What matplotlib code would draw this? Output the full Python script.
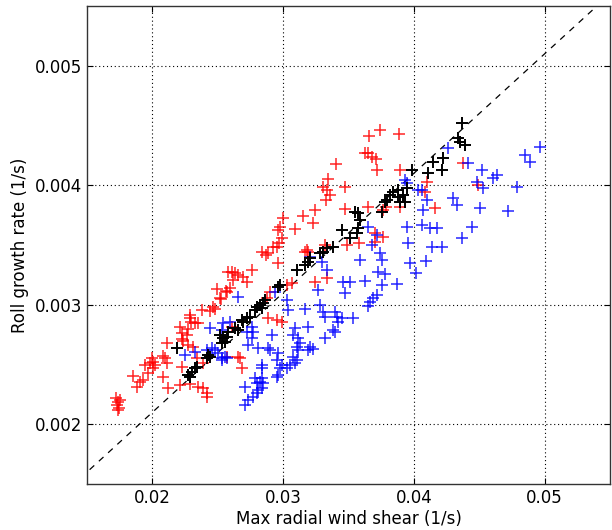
import matplotlib
matplotlib.use("Agg")
import matplotlib.pyplot as plt
import numpy as np

# Red series (Max radial wind shear, roll growth rate)
red_x = [0.01722, 0.01737, 0.01729, 0.01745, 0.01752, 0.01737, 0.01852, 0.01882, 0.01905, 0.01928,
         0.01967, 0.01944, 0.01982, 0.01997, 0.02005, 0.0202, 0.02005, 0.02081, 0.02097, 0.02112,
         0.02081, 0.0212, 0.02211, 0.02227, 0.02112, 0.02211, 0.02272, 0.02227, 0.02265, 0.02227,
         0.02234, 0.02288, 0.02288, 0.02295, 0.02326, 0.02349, 0.02272, 0.02311, 0.02341, 0.02387,
         0.02288, 0.02349, 0.02387, 0.02418, 0.02418, 0.0238, 0.02441, 0.02479, 0.02464, 0.02525,
         0.02494, 0.02563, 0.02578, 0.02609, 0.02632, 0.02655, 0.02617, 0.02594, 0.02571, 0.02693,
         0.02724, 0.02762, 0.02838, 0.02884, 0.02869, 0.02923, 0.02953, 0.02968, 0.02991, 0.02999,
         0.02976, 0.02961, 0.03091, 0.03152, 0.03167, 0.0319, 0.02961, 0.029, 0.02877, 0.02517,
         0.03068, 0.0303, 0.03244, 0.03336, 0.02884, 0.02953, 0.02991, 0.02609, 0.0267, 0.02685,
         0.02655, 0.02571, 0.03244, 0.03228, 0.03343, 0.03305, 0.03336, 0.03359, 0.03328, 0.03473,
         0.03404, 0.03473, 0.03626, 0.03649, 0.0368, 0.0371, 0.03718, 0.03657, 0.03741, 0.03886,
         0.03894, 0.03649, 0.03787, 0.03764, 0.03894, 0.03703, 0.03764, 0.03703, 0.0358, 0.03489,
         0.0332, 0.03183, 0.04376, 0.041, 0.04085, 0.04162, 0.0449]
red_y = [0.00222, 0.002186, 0.002161, 0.002136, 0.002203, 0.002119, 0.002404, 0.002312, 0.002354, 0.00237,
         0.002429, 0.002496, 0.002513, 0.002554, 0.002521, 0.002496, 0.002471, 0.002571, 0.002554, 0.002513,
         0.002395, 0.002303, 0.002329, 0.002479, 0.00268, 0.002814, 0.002797, 0.002764, 0.002747, 0.002713,
         0.002697, 0.002914, 0.002889, 0.002856, 0.002847, 0.002847, 0.002663, 0.002647, 0.002554, 0.002513,
         0.002337, 0.002312, 0.002303, 0.002262, 0.002228, 0.002956, 0.002948, 0.002964, 0.002981, 0.003048,
         0.003132, 0.003115, 0.003274, 0.003274, 0.003266, 0.003249, 0.003207, 0.00314, 0.003107, 0.003232,
         0.00319, 0.003291, 0.003441, 0.003433, 0.003416, 0.003483, 0.003483, 0.003517, 0.003559, 0.003726,
         0.003651, 0.003626, 0.003634, 0.003743, 0.003441, 0.003441, 0.003349, 0.003107, 0.003057, 0.003057,
         0.003182, 0.003165, 0.00319, 0.003224, 0.002889, 0.002872, 0.002856, 0.002814, 0.002554, 0.002471,
         0.002563, 0.002563, 0.003793, 0.003684, 0.004052, 0.003985, 0.00396, 0.003918, 0.003877, 0.003985,
         0.004178, 0.003801, 0.00427, 0.00427, 0.004236, 0.00422, 0.004128, 0.004412, 0.004462, 0.004429,
         0.004128, 0.003818, 0.003818, 0.003793, 0.003818, 0.0036, 0.003567, 0.003525, 0.003517, 0.0035,
         0.0035, 0.003458, 0.004186, 0.004027, 0.003944, 0.00381, 0.004002]

# Blue series
blue_x = [0.02655, 0.02938, 0.0303, 0.03037, 0.03167, 0.03267, 0.03282, 0.03305, 0.0332, 0.03336,
          0.03297, 0.03458, 0.03473, 0.03397, 0.03412, 0.0345, 0.0342, 0.03381, 0.03397, 0.0332,
          0.0319, 0.03091, 0.03076, 0.03114, 0.03129, 0.03106, 0.03114, 0.03076, 0.03106, 0.03091,
          0.03053, 0.03206, 0.03228, 0.0319, 0.02915, 0.02884, 0.029, 0.02808, 0.02731, 0.02961,
          0.02953, 0.02991, 0.02976, 0.0303, 0.02838, 0.02838, 0.02961, 0.02953, 0.02838, 0.02823,
          0.028, 0.02785, 0.02846, 0.02838, 0.02808, 0.028, 0.02708, 0.0277, 0.02731, 0.02708,
          0.02762, 0.0277, 0.02762, 0.02724, 0.02594, 0.0254, 0.02532, 0.02532, 0.02571, 0.02441,
          0.0225, 0.02326, 0.02418, 0.02456, 0.02479, 0.02502, 0.02555, 0.02532, 0.03588, 0.03741,
          0.03756, 0.03726, 0.03779, 0.03511, 0.03626, 0.03756, 0.03871, 0.03718, 0.03687, 0.03664,
          0.03649, 0.03534, 0.0397, 0.04016, 0.04093, 0.04261, 0.04414, 0.04965, 0.0485, 0.04888,
          0.04521, 0.04636, 0.04605, 0.04483, 0.04529, 0.04789, 0.04062, 0.041, 0.04299, 0.0433,
          0.04506, 0.0407, 0.0472, 0.04062, 0.04123, 0.04177, 0.04444, 0.04368, 0.04139, 0.04215,
          0.03947, 0.04032, 0.03947, 0.03955, 0.03649, 0.03718, 0.0368, 0.03206, 0.03932]
blue_y = [0.003065, 0.003107, 0.00304, 0.002956, 0.002964, 0.003123, 0.002998, 0.002939, 0.002898, 0.003291,
          0.003358, 0.00319, 0.003098, 0.002939, 0.002898, 0.002889, 0.002856, 0.002789, 0.002772, 0.002722,
          0.002814, 0.002806, 0.002747, 0.002722, 0.00268, 0.002647, 0.002621, 0.002563, 0.002538, 0.002513,
          0.002496, 0.002647, 0.00263, 0.002621, 0.002747, 0.002638, 0.002621, 0.002638, 0.002663, 0.002596,
          0.002538, 0.002496, 0.002471, 0.002471, 0.002496, 0.002471, 0.002412, 0.002395, 0.002387, 0.002354,
          0.002345, 0.002387, 0.002345, 0.002303, 0.002287, 0.002262, 0.002312, 0.002228, 0.002203, 0.002161,
          0.002814, 0.002772, 0.002722, 0.002772, 0.002856, 0.002847, 0.002789, 0.002554, 0.002554, 0.002806,
          0.00258, 0.002605, 0.002621, 0.002638, 0.002621, 0.002596, 0.002563, 0.002538, 0.003375, 0.003433,
          0.003375, 0.003274, 0.003257, 0.00319, 0.003199, 0.003165, 0.003174, 0.003082, 0.003057, 0.003023,
          0.00299, 0.002889, 0.003349, 0.003266, 0.003366, 0.004312, 0.004186, 0.00432, 0.004253, 0.004195,
          0.004128, 0.004086, 0.004061, 0.004027, 0.003977, 0.003985, 0.00396, 0.003877, 0.003893, 0.003835,
          0.00381, 0.003793, 0.003785, 0.003667, 0.003642, 0.003642, 0.003651, 0.003559, 0.003483, 0.003483,
          0.004019, 0.00396, 0.003651, 0.003517, 0.003651, 0.003584, 0.0035, 0.0034, 0.004044]

# Black series
black_x = [0.02188, 0.02272, 0.02303, 0.02326, 0.02341, 0.02288, 0.02425, 0.02441, 0.02418, 0.0254,
           0.02571, 0.02555, 0.02578, 0.02517, 0.02532, 0.02632, 0.02655, 0.02685, 0.02693, 0.02724,
           0.02747, 0.02785, 0.028, 0.02823, 0.02846, 0.02861, 0.02838, 0.02961, 0.02976, 0.03106,
           0.03167, 0.0319, 0.03206, 0.03282, 0.03305, 0.03336, 0.03381, 0.0345, 0.03511, 0.03565,
           0.03573, 0.03588, 0.03573, 0.0355, 0.03756, 0.03817, 0.0384, 0.03879, 0.03894, 0.03917,
           0.03879, 0.03986, 0.03947, 0.04108, 0.04368, 0.04337, 0.04353, 0.04391, 0.04146, 0.04223,
           0.04215, 0.03794, 0.03779, 0.03932]
black_y = [0.002638, 0.002412, 0.002437, 0.002471, 0.002479, 0.002395, 0.00258, 0.002563, 0.002554, 0.002722,
           0.00273, 0.002688, 0.002772, 0.002747, 0.00268, 0.002806, 0.002789, 0.002872, 0.002856, 0.002889,
           0.002898, 0.002956, 0.002981, 0.002998, 0.003015, 0.00304, 0.002973, 0.003149, 0.003165, 0.003291,
           0.003333, 0.003358, 0.003391, 0.003433, 0.003441, 0.003475, 0.003483, 0.003626, 0.003559, 0.0036,
           0.003642, 0.003709, 0.003768, 0.003776, 0.003776, 0.003918, 0.003944, 0.003902, 0.00386, 0.003918,
           0.00396, 0.004128, 0.003977, 0.004103, 0.004521, 0.004395, 0.004362, 0.004337, 0.004195, 0.004228,
           0.004128, 0.003877, 0.00386, 0.00386]

# Reference dashed line
line_x = [0.0152, 0.055]
line_y = [0.00162, 0.0056]

x_ticks = [0.02, 0.03, 0.04, 0.05]
y_ticks = [0.002, 0.003, 0.004, 0.005]

fig = plt.figure(figsize=(6.12, 5.30), dpi=100)
ax = fig.add_axes([0.1422, 0.0868, 0.8546, 0.9019])

ax.plot(line_x, line_y, color='black', lw=0.9, dashes=(5, 5))
ms, mew = 9, 1.1
ax.plot(red_x, red_y, '+', color='#ff0000', ms=ms, mew=mew, alpha=0.85)
ax.plot(blue_x, blue_y, '+', color='#0000ff', ms=ms, mew=mew, alpha=0.85)
ax.plot(black_x, black_y, '+', color='black', ms=ms, mew=1.4)

ax.set_xlim(0.015, 0.055)
ax.set_ylim(0.0015, 0.0055)
ax.set_xticks(x_ticks)
ax.set_yticks(y_ticks)
ax.set_xticklabels([f"{v:g}" for v in x_ticks])
ax.set_yticklabels([f"{v:g}" for v in y_ticks])
ax.grid(True, color='black', linestyle=(0, (1, 2.5)), linewidth=0.8)
ax.tick_params(direction='in', length=4, labelsize=12, top=True, right=True, pad=3.5)
for s in ax.spines.values():
    s.set_color('#333333')
    s.set_linewidth(1.0)
ax.set_xlabel('Max radial wind shear (1/s)', fontsize=12, labelpad=2)
ax.set_ylabel('Roll growth rate (1/s)', fontsize=12, labelpad=4)

fig.savefig('out.png', dpi=100)
